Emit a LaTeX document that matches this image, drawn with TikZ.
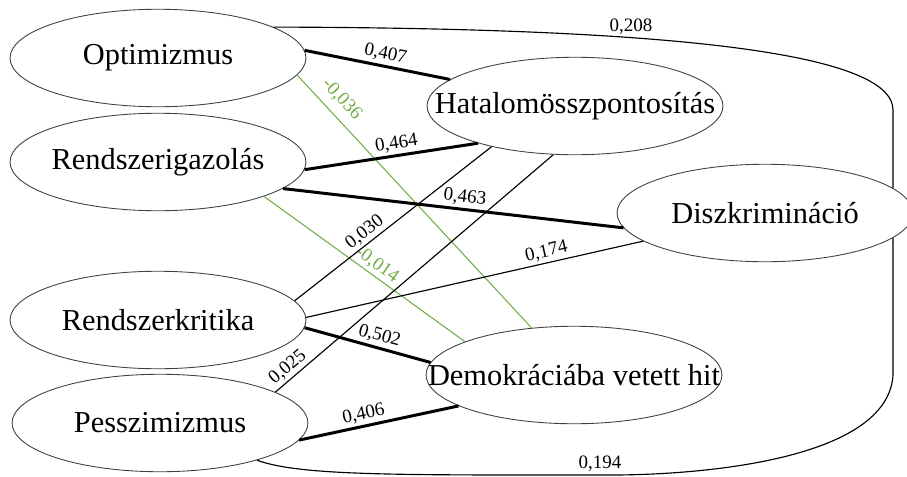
\documentclass[tikz,border=0pt]{standalone}
\usepackage{fontspec}
\setmainfont{Liberation Serif}
\usetikzlibrary{shapes,positioning,calc}
\definecolor{negGreen}{RGB}{112,173,71}
\newcommand{\vname}[1]{\makebox[0pt]{#1}}

\begin{document}
\begin{tikzpicture}[x=0.02cm,y=-0.02cm,
            var/.style={ellipse,draw=black!75,line width=0.5pt,minimum width=5.92cm,minimum height=1.95cm,inner sep=0pt,font=\fontsize{17.3}{20}\selectfont},
            strong/.style={line width=1.7pt},
            weak/.style={line width=0.65pt},
            neg/.style={line width=0.6pt,draw=negGreen},
            coefh/.style={font=\fontsize{10.8}{12}\selectfont,inner sep=1.5pt,above},
            coef/.style={coefh,sloped}]
            \useasboundingbox (0,0) rectangle (907,477);
            \node[var] (opt) at (158,58) {\vname{Optimizmus}};
            \node[var] (rig) at (158,162) {\vname{Rendszerigazolás}};
            \node[var] (rkr) at (158,320) {\vname{Rendszerkritika}};
            \node[var] (pes) at (160,423) {\vname{Pesszimizmus}};
            \node[var] (hat) at (575,106) {\vname{Hatalomösszpontosítás}};
            \node[var] (dis) at (765,213) {\vname{Diszkrimináció}};
            \node[var] (dem) at (574,375) {\vname{Demokráciába vetett hit}};

            \draw[strong] (opt.3) -- node[coef,pos=0.54] {0,407} (hat.168);
            \draw[neg] (opt.-7) -- node[coef,text=negGreen,pos=0.14,above=3pt] {-0,036} (dem.132);
            \draw[strong] (rig.-3) -- node[coef,pos=0.54] {0,464} (hat.201);
            \draw[strong] (rig.-12) -- node[coef,pos=0.53] {0,463} (dis.186);
            \draw[neg] (rig.-18) -- node[coef,text=negGreen,pos=0.53] {-0,014} (dem.163);
            \draw[weak] (rkr.8) -- node[coef,pos=0.39] {0,030} (hat.206);
            \draw[weak] (rkr.1) -- node[coef,pos=0.72] {0,174} (dis.193);
            \draw[strong] (rkr.-3) -- node[coef,pos=0.57] {0,502} (dem.175);
            \draw[weak] (pes.15) -- node[coef,pos=0.07] {0,025} (hat.246);
            \draw[strong] (pes.-7) -- node[coef,pos=0.42] {0,406} (dem.195);

            % the two long ones round the right side
            \draw[weak] (opt.15) .. controls (650,28) and (dis.11 |- 0,50) .. node[coefh,pos=0.37] {0,208} (dis.11 |- 0,110) -- (dis.11);
            \draw[weak] (dis.-11) -- (dis.-11 |- 0,375) .. controls (888,460) and (700,476) .. (600,475) node[coefh] {0,194} .. controls (400,475) and (300,476) .. (pes.-21);
        \end{tikzpicture}
\end{document}
